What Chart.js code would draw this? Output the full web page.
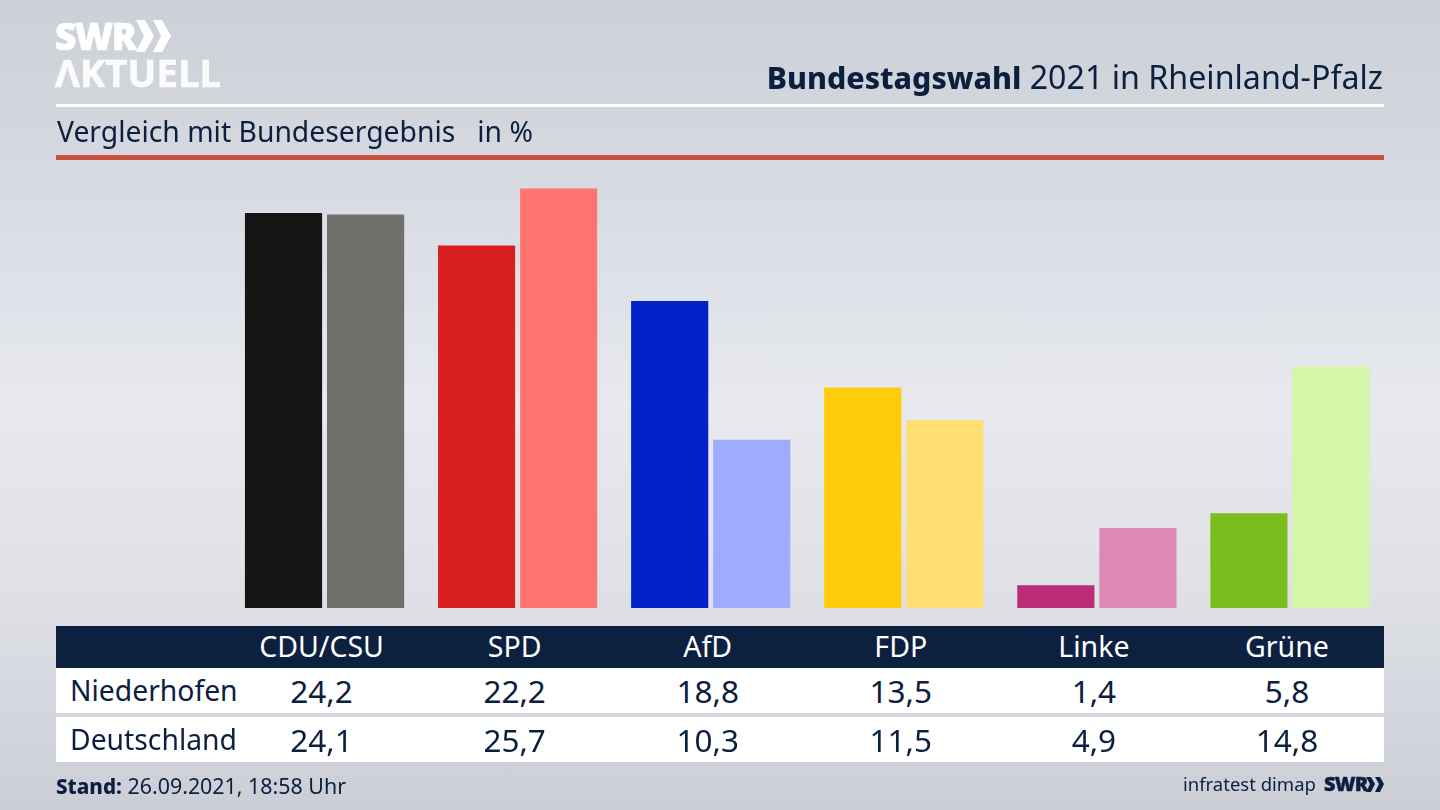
<!DOCTYPE html>
<html lang="de"><head><meta charset="utf-8">
<script src="https://cdn.jsdelivr.net/npm/chart.js@4/dist/chart.umd.min.js"></script>
<style>
html,body{margin:0;padding:0;width:1440px;height:810px;overflow:hidden}
body{background:linear-gradient(180deg,#ccd0d7 0%,#d3d6dd 15%,#e7e9ef 50%,#dfe1e7 72%,#cbced5 100%);font-family:"Noto Sans",sans-serif;color:#0b2040;position:relative}
canvas{position:absolute;left:0;top:0}
.a{position:absolute;white-space:pre;line-height:1}
.rule{position:absolute;left:56px;width:1328px}
.c{position:absolute;transform:translateX(-50%);white-space:pre;line-height:1}
</style></head><body>
<canvas id="c" width="1440" height="810"></canvas>
<div class="a" style="left:55px;top:17px;font:800 37px/1 'Open Sans';color:#fff;letter-spacing:-1.5px;-webkit-text-stroke:.7px #fff">SWR</div>
<svg class="a" style="left:136px;top:20px" width="36" height="33"><path fill="#fff" d="M0 0h9l9 16-9 16H0l8-16zM17 0h9l9 16-9 16h-9l8-16z"/></svg>
<div class="a" style="left:55px;top:53px;font:700 38px/1 'Open Sans';color:#fbfbfc;letter-spacing:.2px;-webkit-text-stroke:.7px #fbfbfc">ΛKTUELL</div>
<div class="a" style="right:57px;top:61px;font-size:32.2px"><b style="font-weight:800;font-size:30.3px">Bundestagswahl</b> 2021 in Rheinland-Pfalz</div>
<div class="rule" style="top:104px;height:3px;background:#fff"></div>
<div class="a" style="left:57px;top:117px;font-size:28.3px">Vergleich mit Bundesergebnis   in %</div>
<div class="rule" style="top:155px;height:5px;background:#c9503f"></div>
<div class="rule" style="top:626px;height:42px;background:#0c2140"></div>
<div class="rule" style="top:668px;height:45px;background:#fff"></div>
<div class="rule" style="top:717px;height:45px;background:#fff"></div>
<div id="tbl"></div>
<div class="a" style="left:56px;top:775px;font-size:21.4px"><b style="font-weight:800;font-size:20.6px">Stand:</b> 26.09.2021, 18:58 Uhr</div>
<div class="a" style="left:1183px;top:775px;font-size:18.5px">infratest dimap</div>
<div class="a" style="left:1324px;top:774px;font:800 20px/1 'Open Sans';letter-spacing:-.8px;-webkit-text-stroke:.4px #0b2040">SWR</div>
<svg class="a" style="left:1366px;top:777px" width="18" height="15"><path fill="#0b2040" d="M0 0h5l4 7-4 8H0l4-8zM9 0h5l4 7-4 8H9l4-8z"/></svg>
<script>
const categories=["CDU/CSU","SPD","AfD","FDP","Linke","Grüne"];
const seriesNames=["Niederhofen","Deutschland"];
const niederhofen=[24.2,22.2,18.8,13.5,1.4,5.8];
const deutschland=[24.1,25.7,10.3,11.5,4.9,14.8];
const coloursNiederhofen=["#141414","#d71f1f","#0022c8","#ffcc0a","#bc2d77","#7abd1c"];
const coloursDeutschland=["#716f6c","#ff7470","#9eacff","#ffdf70","#df87b6","#d4f6a8"];
const fmt=v=>v.toFixed(1).replace(".",",");
const chart=new Chart(document.getElementById("c"),{
  type:"bar",
  data:{labels:categories,datasets:[
    {label:seriesNames[0],data:niederhofen,backgroundColor:coloursNiederhofen},
    {label:seriesNames[1],data:deutschland,backgroundColor:coloursDeutschland}]},
  options:{responsive:false,animation:false,devicePixelRatio:1,
    categoryPercentage:.85,barPercentage:.94,
    layout:{padding:{left:228,right:53.5,top:183.5,bottom:202}},
    plugins:{legend:{display:false},title:{display:false},tooltip:{enabled:false}},
    scales:{x:{display:false},y:{display:false,min:0,max:26}}}
});
const tbl=document.getElementById("tbl");
function put(text,x,y,size,color,cls){
  const d=document.createElement("div");d.className=cls||"c";d.textContent=text;
  d.style.left=x+"px";d.style.top=y+"px";d.style.fontSize=size+"px";if(color)d.style.color=color;tbl.appendChild(d);
}
categories.forEach((n,i)=>{
  const x=chart.scales.x.getPixelForValue(i)-3;
  put(n,x,632,28.5,"#fff");
  put(fmt(niederhofen[i]),x,675,31.5);
  put(fmt(deutschland[i]),x,724,31.5);
});
put(seriesNames[0],70,676,28.3,null,"a");
put(seriesNames[1],70,725,28.3,null,"a");
</script></body></html>
